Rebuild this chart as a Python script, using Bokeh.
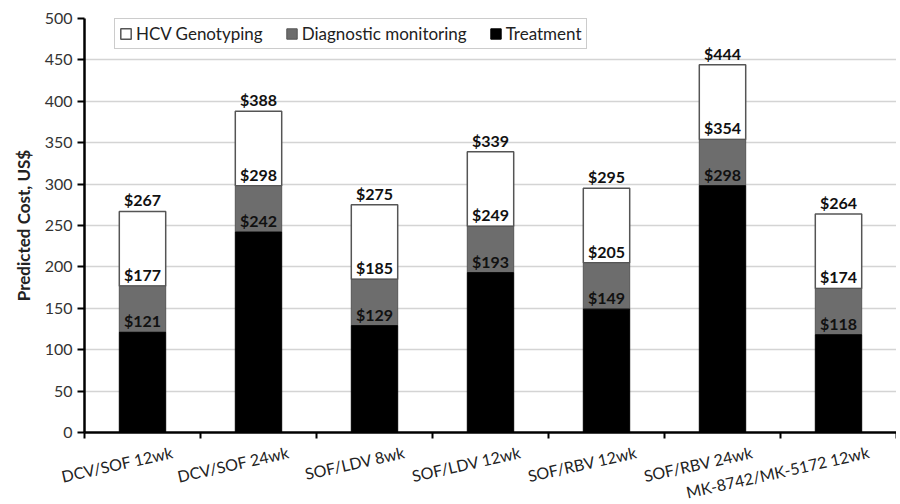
from bokeh.plotting import figure
from bokeh.models import ColumnDataSource, FixedTicker, Legend, LegendItem, Range1d, Title
from bokeh.core.properties import value
from bokeh.embed import file_html
from bokeh.resources import INLINE

regimens = ["DCV/SOF 12wk", "DCV/SOF 24wk", "SOF/LDV 8wk", "SOF/LDV 12wk",
            "SOF/RBV 12wk", "SOF/RBV 24wk", "MK-8742/MK-5172 12wk"]
treatment = [121, 242, 129, 193, 149, 298, 118]
with_monitoring = [177, 298, 185, 249, 205, 354, 174]
total = [267, 388, 275, 339, 295, 444, 264]
y_ticks = [0, 50, 100, 150, 200, 250, 300, 350, 400, 450, 500]

FONT = "Lato"
xs = [i + 0.5 for i in range(len(regimens))]
label_pos = [x + 0.26 for x in xs]
src = ColumnDataSource(dict(
    x=xs, zero=[0] * len(xs), treat=treatment, mon=with_monitoring, tot=total,
    treat_lbl=["$%d" % v for v in treatment],
    mon_lbl=["$%d" % v for v in with_monitoring],
    tot_lbl=["$%d" % v for v in total],
))

p = figure(frame_width=812, frame_height=414, output_backend="svg", toolbar_location=None,
           x_range=Range1d(0, len(regimens)), y_range=Range1d(0, 500),
           min_border_left=84, min_border_right=0, min_border_top=18, min_border_bottom=68)
p.outline_line_color = None
p.background_fill_color = "white"

W = 0.4
r_geno = p.vbar(x="x", bottom="mon", top="tot", width=W, source=src,
                fill_color="white", line_color="#555555", line_width=1.5)
r_mon = p.vbar(x="x", bottom="treat", top="mon", width=W, source=src,
               fill_color="#6d6d6d", line_color="#555555", line_width=1)
r_treat = p.vbar(x="x", bottom="zero", top="treat", width=W, source=src,
                 fill_color="black", line_color="black", line_width=1)

for col, lbl in [("treat", "treat_lbl"), ("mon", "mon_lbl"), ("tot", "tot_lbl")]:
    p.text(x="x", y=col, text=lbl, source=src, text_align="center", text_baseline="bottom",
           y_offset=-2, text_font=value(FONT), text_font_style="bold",
           text_font_size="16px", text_color="#111111")

# y axis title (placed as a side title so it can sit slightly above centre)
ytitle = Title(text="Predicted Cost, US$", align="center", offset=23, standoff=16,
               text_font=FONT, text_font_style="bold", text_font_size="17px",
               text_color="#222222")
p.add_layout(ytitle, "left")

p.yaxis.ticker = FixedTicker(ticks=y_ticks)
p.yaxis.major_label_text_font = FONT
p.yaxis.major_label_text_font_size = "16px"
p.yaxis.major_label_text_color = "#333333"
p.yaxis.major_label_standoff = 5
p.yaxis.major_tick_out = 7
p.yaxis.major_tick_in = 0
p.yaxis.minor_tick_line_color = None
p.yaxis.axis_line_width = 2.5
p.yaxis.major_tick_line_width = 2

p.xaxis.ticker = FixedTicker(ticks=label_pos, minor_ticks=list(range(len(regimens) + 1)))
p.xaxis.major_label_overrides = {x: r for x, r in zip(label_pos, regimens)}
p.xaxis.major_label_orientation = 0.22
p.xaxis.major_label_text_font = FONT
p.xaxis.major_label_text_font_size = "16px"
p.xaxis.major_label_text_color = "#222222"
p.xaxis.major_tick_line_color = None
p.xaxis.major_tick_out = 4
p.xaxis.major_label_standoff = 13
p.xaxis.minor_tick_out = 6
p.xaxis.minor_tick_in = 0
p.xaxis.minor_tick_line_width = 2
p.xaxis.axis_line_width = 2.5

p.xgrid.grid_line_color = None
p.ygrid.ticker = FixedTicker(ticks=y_ticks)
p.ygrid.grid_line_color = "#d4d4d4"
p.ygrid.grid_line_width = 1.5

legend = Legend(items=[
    LegendItem(label="HCV Genotyping", renderers=[r_geno]),
    LegendItem(label="Diagnostic monitoring", renderers=[r_mon]),
    LegendItem(label="Treatment", renderers=[r_treat]),
], orientation="horizontal", location=(30, 383))
legend.label_text_font = FONT
legend.label_text_font_size = "17px"
legend.label_text_color = "#222222"
legend.glyph_width = 13
legend.glyph_height = 13
legend.spacing = 22
legend.label_standoff = 4
legend.padding = 4
legend.margin = 0
legend.border_line_color = "#999999"
legend.border_line_width = 1
legend.background_fill_alpha = 1
legend.label_height = 15
p.add_layout(legend, "center")

open("out.html", "w").write(file_html(p, INLINE))
